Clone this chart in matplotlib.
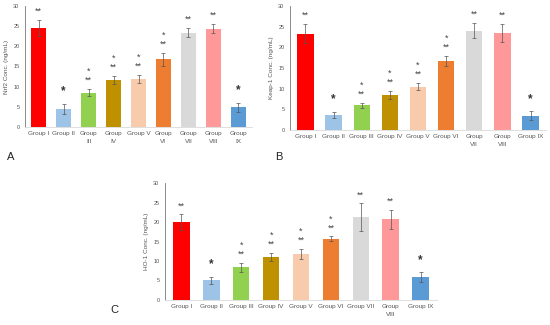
import matplotlib.pyplot as plt
import numpy as np

plt.rcParams['font.family'] = ['Liberation Sans', 'DejaVu Sans']

colors = ['#ff0000', '#9dc3e6', '#92d050', '#bf9000', '#f8cbad',
          '#ed7d31', '#d9d9d9', '#ff9999', '#5b9bd5']

stars = ['**', '*', '*\n**', '*\n**', '*\n**', '*\n**', '**', '**', '*']

nrf2 = [24.6, 4.5, 8.5, 11.6, 11.9, 16.8, 23.4, 24.4, 4.9]
nrf2_err = [2.0, 1.3, 0.9, 1.0, 1.1, 1.6, 1.2, 1.1, 1.1]
nrf2_labels = ['Group I', 'Group II', 'Group\nIII', 'Group\nIV', 'Group V',
               'Group\nVI', 'Group\nVII', 'Group\nVIII', 'Group\nIX']

keap1 = [23.3, 3.6, 6.0, 8.5, 10.5, 16.7, 24.0, 23.5, 3.5]
keap1_err = [2.3, 0.7, 0.6, 0.9, 0.8, 1.2, 1.8, 2.1, 1.0]
keap1_labels = ['Group I', 'Group II', 'Group III', 'Group IV', 'Group V',
                'Group VI', 'Group\nVII', 'Group\nVIII', 'Group IX']

ho1 = [20.0, 5.1, 8.4, 11.1, 11.9, 15.7, 21.3, 20.7, 5.8]
ho1_err = [2.0, 0.9, 1.2, 1.0, 1.3, 0.6, 3.5, 2.5, 1.3]
ho1_labels = ['Group I', 'Group II', 'Group III', 'Group IV', 'Group V',
              'Group VI', 'Group VII', 'Group\nVIII', 'Group IX']


def plotPanel(ax, vals, errs, labels, ylabel, width):
  x = np.arange(len(vals))
  ax.bar(x, vals, width=width, color=colors, zorder=2)
  ax.errorbar(x, vals, yerr=errs, fmt='none', ecolor='#555555',
              elinewidth=0.5, capsize=1.5, capthick=0.5, zorder=3)
  for i in range(len(vals)):
    top = vals[i] + errs[i] + 1.0
    if stars[i] == '*':
      ax.text(x[i], top + 0.6, '*', ha='center', va='bottom',
              fontsize=8.5, fontweight='bold', color='#333333')
    else:
      ax.text(x[i], top, stars[i], ha='center', va='bottom',
              fontsize=6.5, color='#444444', linespacing=1.0)
  ax.set_xlim(-0.55, len(vals) - 0.45)
  ax.set_ylim(0, 30)
  ax.set_yticks(range(0, 31, 5))
  ax.set_xticks(x)
  ax.set_xticklabels(labels, fontsize=4.6, color='#555555', linespacing=1.6)
  ax.tick_params(axis='y', labelsize=4, colors='#555555', length=0, pad=4)
  ax.tick_params(axis='x', length=0, pad=3)
  ax.set_ylabel(ylabel, fontsize=4.6, color='#555555', labelpad=3)
  for s in ['top', 'right']:
    ax.spines[s].set_visible(False)
  ax.spines['left'].set_color('#777777')
  ax.spines['left'].set_linewidth(0.6)
  ax.spines['bottom'].set_color('#d9d9d9')
  ax.spines['bottom'].set_linewidth(0.6)


fig = plt.figure(figsize=(5.5, 3.25), dpi=100)
W, H = 550.0, 325.0

axA = fig.add_axes([25 / W, 1 - 127 / H, 227 / W, 121 / H])
plotPanel(axA, nrf2, nrf2_err, nrf2_labels, 'Nrf2 Conc. (ng/mL)', 0.6)

axB = fig.add_axes([290 / W, 1 - 130 / H, 256 / W, 124 / H])
plotPanel(axB, keap1, keap1_err, keap1_labels, 'Keap-1 Conc. (ng/mL)', 0.58)

axC = fig.add_axes([165 / W, 1 - 300 / H, 272 / W, 117 / H])
plotPanel(axC, ho1, ho1_err, ho1_labels, 'HO-1 Conc. (ng/mL)', 0.55)

fig.text(7 / W, 1 - 157 / H, 'A', fontsize=8, va='center', color='#222222')
fig.text(275 / W, 1 - 157 / H, 'B', fontsize=8, va='center', color='#222222')
fig.text(110 / W, 1 - 310 / H, 'C', fontsize=8, va='center', color='#222222')

fig.savefig('out.png', dpi=100)
